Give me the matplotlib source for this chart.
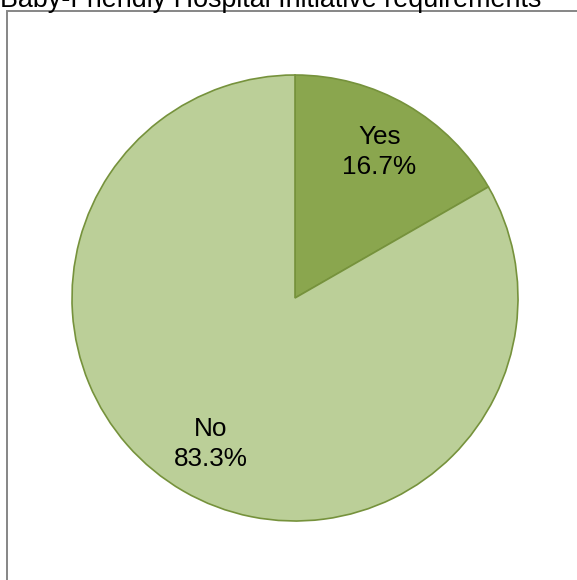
import matplotlib
matplotlib.use("Agg")
import matplotlib.pyplot as plt
from matplotlib.patches import Rectangle

plt.rcParams['font.family'] = ['Liberation Sans', 'DejaVu Sans']

# data
labels = ['Yes', 'No']
shares = [16.7, 83.3]
colors = ['#8AA64E', '#BBCF98']
title = 'Baby-Friendly Hospital Initiative requirements'

W, H = 577, 580
fig = plt.figure(figsize=(W / 100, H / 100), dpi=100)
ax = fig.add_axes([0, 0, 1, 1])

# frame of the chart area (cut off at right and bottom)
ax.add_patch(Rectangle((6.5, -20), W + 40, H - 10.5 + 20, fill=False,
                       edgecolor='#868686', linewidth=1.4, zorder=0))

it = iter(labels)
wedges, texts, autotexts = ax.pie(
    shares, colors=colors, startangle=90, counterclock=False,
    center=(295, H - 298), radius=223, frame=True,
    autopct=lambda p: '%s\n%.1f%%' % (next(it), p), pctdistance=0.755,
    wedgeprops=dict(edgecolor='#76923C', linewidth=1.2),
    textprops=dict(fontsize=18.8, color='black', linespacing=1.32))
ax.set_xlim(0, W)
ax.set_ylim(0, H)
ax.set_aspect('equal')
ax.axis('off')

fig.text(0, 1 - 7 / H, title, fontsize=19.4, ha='left', va='baseline')

fig.savefig('out.png', dpi=100)
